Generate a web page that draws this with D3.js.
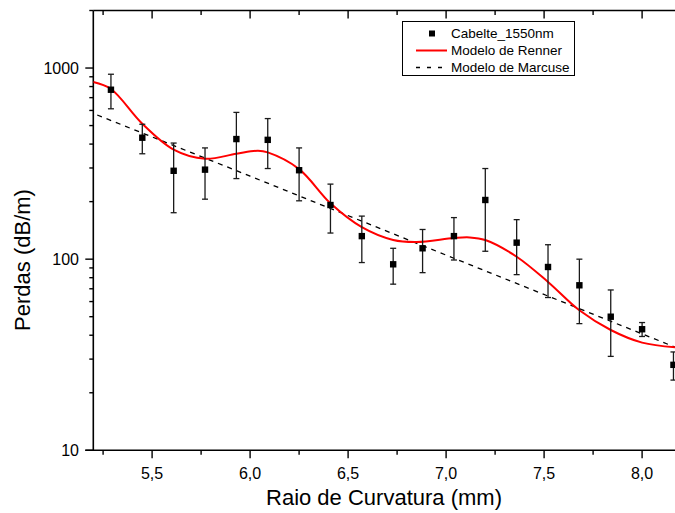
<!DOCTYPE html>
<html>
<head>
<meta charset="utf-8">
<script src="https://cdn.jsdelivr.net/npm/d3@7"></script>
<style>
  html, body { margin: 0; padding: 0; background: #fff; }
  svg { display: block; }
  text { font-family: "Liberation Sans", Arial, sans-serif; fill: #000; }
</style>
</head>
<body>
<svg id="chart" width="675" height="513"></svg>
<script>
// ---- data ----
const radius = [5.29, 5.45, 5.61, 5.77, 5.93, 6.09, 6.25, 6.41, 6.57, 6.73, 6.88, 7.04, 7.20, 7.36, 7.52, 7.68, 7.84, 8.00, 8.16];
const losses = [770, 432, 290, 294, 425, 421, 292, 192, 132, 94, 114, 132, 204, 122, 91, 73, 50, 43, 28];
const lossErr = [158, 76, 115, 88, 161, 123, 90, 55, 36, 20, 29, 33, 94, 39, 28, 27, 19, 3.6, 4.7];

const rennerR = [5.20, 5.29, 5.45, 5.61, 5.77, 5.93, 6.04, 6.09, 6.25, 6.41, 6.57, 6.73, 6.85, 7.04, 7.12, 7.20, 7.36, 7.52, 7.68, 7.84, 8.00, 8.17];
const rennerLoss = [845, 777, 511, 374, 335, 356, 369, 362, 296, 196, 147, 126, 123, 129, 130, 126, 103, 76, 54, 42.6, 36.6, 34.6];

const marcuseR = [5.22, 6.0, 7.0, 8.17];
const marcuseLoss = [568, 272, 105, 34.6];

const xTicks = [5.5, 6.0, 6.5, 7.0, 7.5, 8.0];
const yTicks = [10, 100, 1000];
const legendLabels = ["Cabelte_1550nm", "Modelo de Renner", "Modelo de Marcuse"];
const xTitle = "Raio de Curvatura (mm)";
const yTitle = "Perdas (dB/m)";

// ---- layout ----
const plotLeft = 93.3, plotTop = 10.5, plotBottom = 450.3;
const svg = d3.select("#chart");

const x = d3.scaleLinear().domain([5.2, 8.3]).range([plotLeft, plotLeft + 3.1 * 196]);
const y = d3.scaleLog().domain([10, 2000]).range([plotBottom, plotTop]);
const plotRight = x.range()[1];

// minor ticks
const xMinor = d3.range(5.25, 8.3, 0.5);
const yMinor = [];
[10, 100, 1000].forEach(d => { for (let k = 2; k <= 9; k++) { const v = d * k; if (v <= 2000) yMinor.push(v); } });

const fmtX = d => d3.format(".1f")(d).replace(".", ",");

// frame lines
const axisG = svg.append("g").attr("stroke", "#000").attr("stroke-width", 1.6);
axisG.append("line").attr("x1", plotLeft).attr("x2", plotLeft).attr("y1", plotTop).attr("y2", plotBottom);
axisG.append("line").attr("x1", plotLeft - 8).attr("x2", plotRight).attr("y1", plotBottom).attr("y2", plotBottom);
axisG.append("line").attr("x1", plotLeft).attr("x2", plotRight).attr("y1", plotTop).attr("y2", plotTop);
axisG.append("line").attr("x1", plotRight).attr("x2", plotRight).attr("y1", plotTop).attr("y2", plotBottom);

const tickG = svg.append("g").attr("stroke", "#000").attr("stroke-width", 1.4);
xTicks.forEach(t => tickG.append("line").attr("x1", x(t)).attr("x2", x(t)).attr("y1", plotBottom).attr("y2", plotBottom + 8));
xMinor.forEach(t => tickG.append("line").attr("x1", x(t)).attr("x2", x(t)).attr("y1", plotBottom).attr("y2", plotBottom + 4.5));
xTicks.forEach(t => tickG.append("line").attr("x1", x(t)).attr("x2", x(t)).attr("y1", plotTop).attr("y2", plotTop + 8));
xMinor.forEach(t => tickG.append("line").attr("x1", x(t)).attr("x2", x(t)).attr("y1", plotTop).attr("y2", plotTop + 4.5));
yTicks.forEach(t => tickG.append("line").attr("x1", plotLeft - 8).attr("x2", plotLeft).attr("y1", y(t)).attr("y2", y(t)));
yMinor.forEach(t => tickG.append("line").attr("x1", plotLeft - 4).attr("x2", plotLeft).attr("y1", y(t)).attr("y2", y(t)));

// tick labels
svg.append("g").selectAll("text").data(xTicks).join("text")
  .attr("x", d => x(d)).attr("y", 479).attr("text-anchor", "middle")
  .attr("font-size", 16).text(fmtX);
svg.append("g").selectAll("text").data(yTicks).join("text")
  .attr("x", 79).attr("y", d => y(d)).attr("dy", "0.36em").attr("text-anchor", "end")
  .attr("font-size", 16).text(d => d);

// titles
svg.append("text").attr("x", 384).attr("y", 505).attr("text-anchor", "middle")
  .attr("font-size", 22).text(xTitle);
svg.append("text").attr("transform", "translate(30,260) rotate(-90)").attr("text-anchor", "middle")
  .attr("font-size", 22).text(yTitle);

// clip
svg.append("clipPath").attr("id", "plotclip").append("rect")
  .attr("x", plotLeft).attr("y", plotTop).attr("width", plotRight - plotLeft).attr("height", plotBottom - plotTop);
const plot = svg.append("g").attr("clip-path", "url(#plotclip)");

// Marcuse model (dashed)
const marcuse = marcuseR.map((r, i) => [r, marcuseLoss[i]]);
plot.append("path").datum(marcuse)
  .attr("d", d3.line().x(d => x(d[0])).y(d => y(d[1])))
  .attr("fill", "none").attr("stroke", "#000").attr("stroke-width", 1.3)
  .attr("stroke-dasharray", "5,5");

// Renner model (red)
const renner = rennerR.map((r, i) => [r, rennerLoss[i]]);
plot.append("path").datum(renner)
  .attr("d", d3.line().x(d => x(d[0])).y(d => y(d[1])).curve(d3.curveCatmullRom.alpha(0.5)))
  .attr("fill", "none").attr("stroke", "#ff0000").attr("stroke-width", 2);

// error bars
const pts = radius.map((r, i) => ({ r, v: losses[i], e: lossErr[i] }));
const eb = svg.append("g").attr("stroke", "#1a1a1a").attr("stroke-width", 1.3);
pts.forEach(p => {
  const yt = y(p.v + p.e), yb = y(p.v - p.e), cx = x(p.r);
  eb.append("line").attr("x1", cx).attr("x2", cx).attr("y1", yt).attr("y2", yb);
  eb.append("line").attr("x1", cx - 3).attr("x2", cx + 3).attr("y1", yt).attr("y2", yt);
  eb.append("line").attr("x1", cx - 3).attr("x2", cx + 3).attr("y1", yb).attr("y2", yb);
});
// markers
svg.append("g").selectAll("rect").data(pts).join("rect")
  .attr("x", d => x(d.r) - 3.2).attr("y", d => y(d.v) - 3.2)
  .attr("width", 6.4).attr("height", 6.4).attr("fill", "#000");

// legend
const lg = svg.append("g");
lg.append("rect").attr("x", 402.5).attr("y", 21.5).attr("width", 172).attr("height", 54)
  .attr("fill", "#fff").attr("stroke", "#000").attr("stroke-width", 1);
const rowY = [33.5, 50.5, 67.5];
lg.append("rect").attr("x", 432 - 3).attr("y", rowY[0] - 3).attr("width", 6).attr("height", 6).attr("fill", "#000");
lg.append("line").attr("x1", 416).attr("x2", 447).attr("y1", rowY[1]).attr("y2", rowY[1])
  .attr("stroke", "#ff0000").attr("stroke-width", 2);
lg.append("line").attr("x1", 416).attr("x2", 447).attr("y1", rowY[2]).attr("y2", rowY[2])
  .attr("stroke", "#000").attr("stroke-width", 1.3).attr("stroke-dasharray", "4,7");
lg.selectAll("text.lbl").data(legendLabels).join("text").attr("class", "lbl")
  .attr("x", 451).attr("y", (d, i) => rowY[i]).attr("dy", "0.36em")
  .attr("font-size", 13.5).text(d => d);
</script>
</body>
</html>
